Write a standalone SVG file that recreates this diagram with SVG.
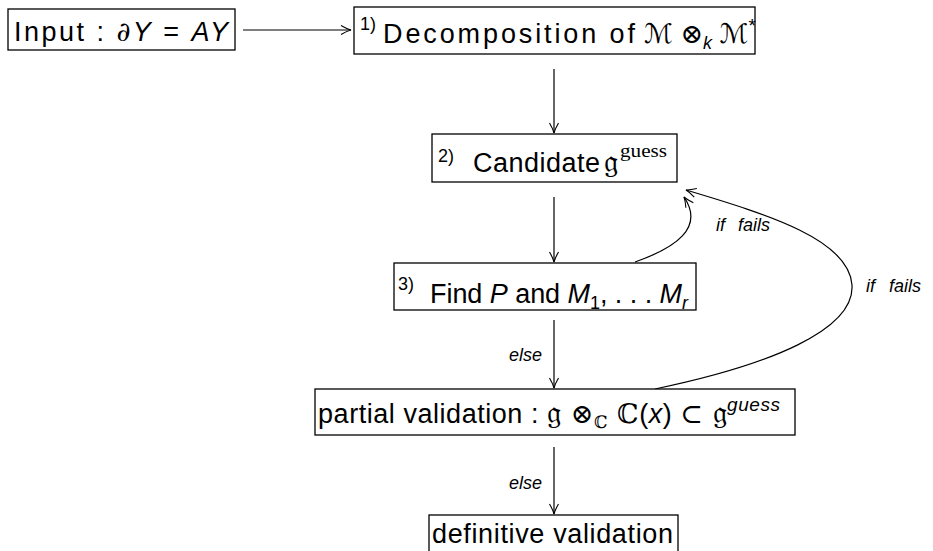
<svg xmlns="http://www.w3.org/2000/svg" width="933" height="551" viewBox="0 0 933 551">
<style>
  .box{fill:#fff;stroke:#000;stroke-width:1.3}
  .t{font-family:"Liberation Sans",Arial,sans-serif;font-size:27px;fill:#000}
  .it{font-style:italic}
  .sup{font-family:"Liberation Sans",Arial,sans-serif;font-size:18px;fill:#000}
  .serif{font-family:"Liberation Serif","Times New Roman",serif;font-size:19px;fill:#000}
  .lbl{font-family:"Liberation Sans",Arial,sans-serif;font-size:18px;font-style:italic;fill:#000}
  .math{font-family:"DejaVu Serif","DejaVu Sans",serif}
  .frak{font-family:"DejaVu Serif","DejaVu Sans",serif;font-size:32px}
  .edge{fill:none;stroke:#000;stroke-width:1.2;marker-end:url(#arr)}
</style>
<defs>
  <marker id="arr" markerUnits="userSpaceOnUse" markerWidth="14" markerHeight="14" viewBox="-12 -7 14 14" refX="0" refY="0" orient="auto">
    <path d="M-10,-4.5 Q-4,-1 0,0 Q-4,1 -10,4.5" fill="none" stroke="#000" stroke-width="1.1"/>
  </marker>
</defs>
<rect width="933" height="551" fill="#fff"/>

<g id="connectors">
  <line class="edge" x1="243" y1="30" x2="351" y2="30"/>
  <line class="edge" x1="554" y1="69" x2="554" y2="133"/>
  <line class="edge" x1="554" y1="197" x2="554" y2="262"/>
  <line class="edge" x1="554" y1="320" x2="554" y2="388"/>
  <line class="edge" x1="554" y1="447" x2="554" y2="514"/>
  <path class="edge" d="M635,262 C675,248 705,228 684,197"/>
  <path class="edge" d="M655,389 C770,365 855,330 852,285 C849,240 770,215 686,190"/>
  <text class="lbl" x="716" y="231">if<tspan x="738">fails</tspan></text>
  <text class="lbl" x="866" y="292">if<tspan x="889">fails</tspan></text>
  <text class="lbl" x="542" y="361" text-anchor="end">else</text>
  <text class="lbl" x="542" y="489" text-anchor="end">else</text>
</g>

<g id="input">
  <rect class="box" x="8" y="9" width="227" height="41"/>
  <text class="t" x="14" y="41" textLength="214" lengthAdjust="spacing">Input : <tspan class="math it">∂</tspan><tspan class="it">Y</tspan> = <tspan class="it">AY</tspan></text>
</g>

<g id="decomposition">
  <rect class="box" x="354" y="7" width="401" height="47"/>
  <text class="sup" x="360" y="30">1)</text>
  <text class="t" x="383" y="43" textLength="252" lengthAdjust="spacing">Decomposition of</text>
  <text class="t" x="644" y="43"><tspan class="math it">ℳ</tspan> <tspan class="math">⊗</tspan><tspan class="it" font-size="18" dy="6">k</tspan> <tspan class="math it" dy="-6">ℳ</tspan><tspan font-size="19" dy="-11">*</tspan></text>
</g>

<g id="candidate">
  <rect class="box" x="432" y="134" width="245" height="48"/>
  <text class="sup" x="438" y="162">2)</text>
  <text class="t" x="473" y="172" textLength="127" lengthAdjust="spacing">Candidate</text>
  <text class="frak" x="604" y="172">𝔤</text>
  <text class="serif" x="620" y="157" textLength="47" lengthAdjust="spacingAndGlyphs">guess</text>
</g>

<g id="find">
  <rect class="box" x="394" y="263" width="302" height="47"/>
  <text class="sup" x="398" y="290">3)</text>
  <text class="t" x="430" y="303" textLength="258" lengthAdjust="spacing">Find <tspan class="it">P</tspan> and <tspan class="it">M</tspan><tspan font-size="18" dy="6">1</tspan><tspan dy="-6">, . . . </tspan><tspan class="it">M</tspan><tspan class="it" font-size="18" dy="6">r</tspan></text>
</g>

<g id="partial">
  <rect class="box" x="315" y="389" width="480" height="46"/>
  <text class="t" x="318" y="423" textLength="462" lengthAdjust="spacing">partial validation : <tspan class="frak">𝔤</tspan><tspan class="math"> ⊗</tspan><tspan class="math" font-size="17" dy="5">ℂ</tspan><tspan class="math" dy="-5"> ℂ</tspan>(<tspan class="it">x</tspan>) <tspan class="math">⊂ </tspan><tspan class="frak">𝔤</tspan><tspan class="it" font-size="19" dy="-12">guess</tspan></text>
</g>

<g id="definitive">
  <rect class="box" x="429" y="515" width="249" height="50"/>
  <text class="t" x="432" y="543" textLength="241" lengthAdjust="spacing">definitive validation</text>
</g>
</svg>
